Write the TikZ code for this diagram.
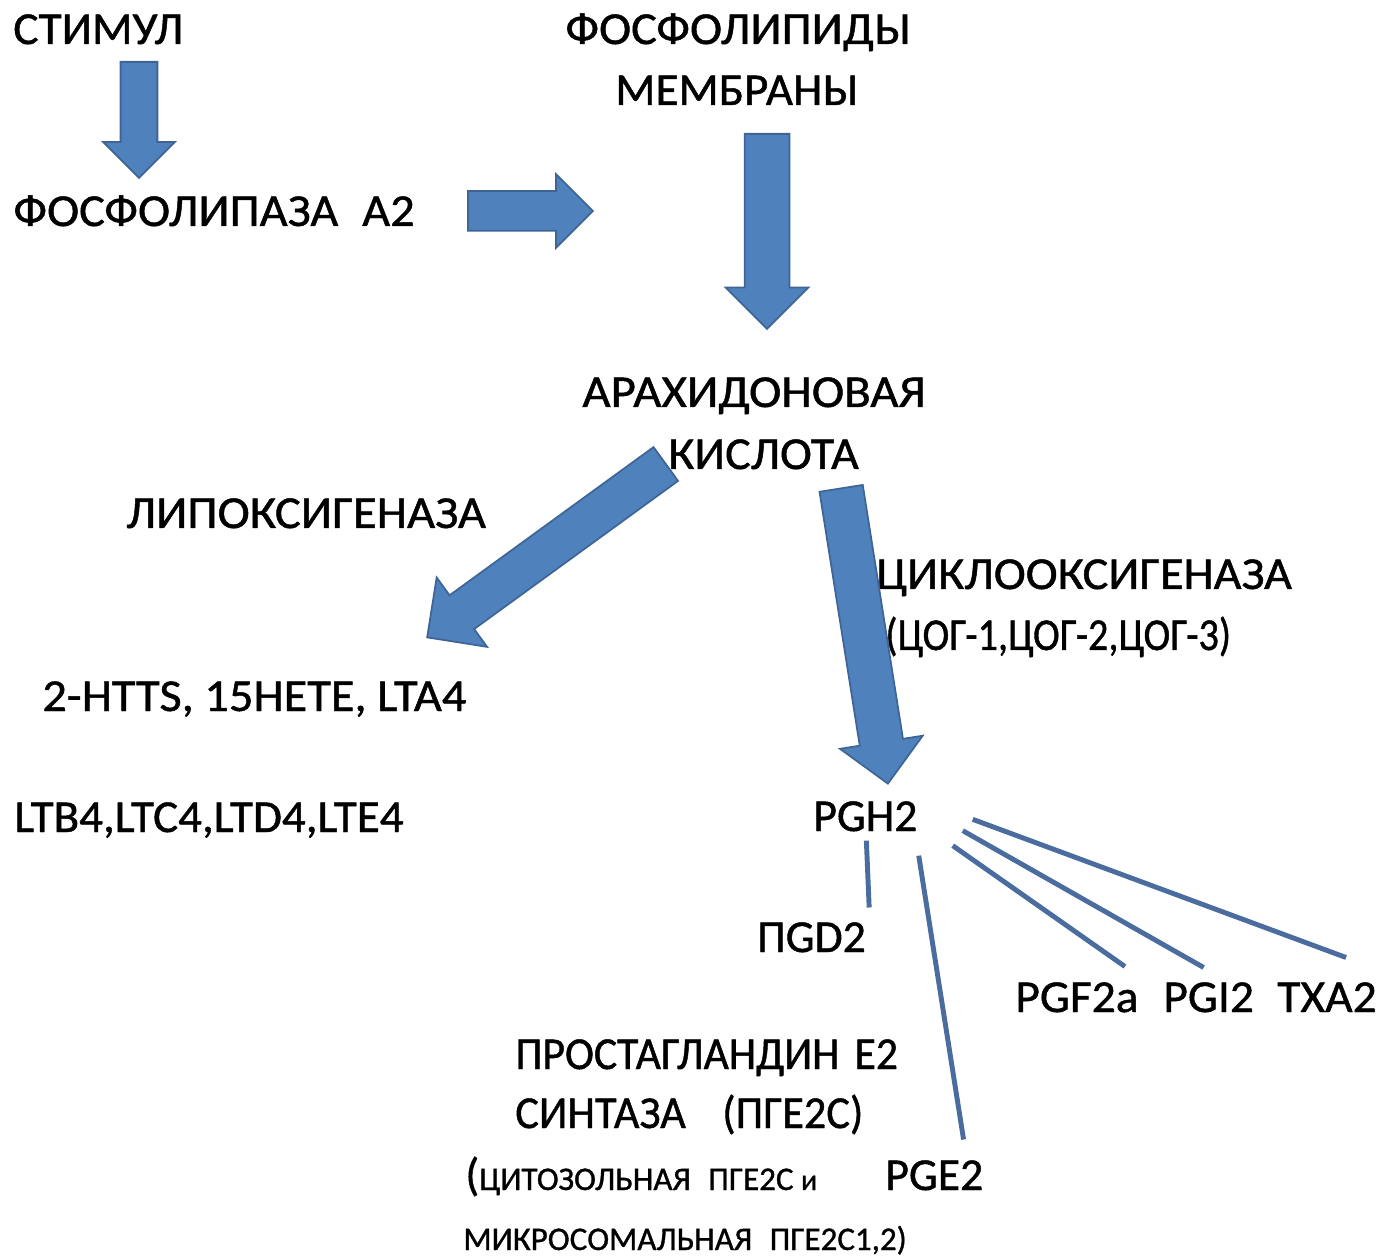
\documentclass[tikz,border=0pt]{standalone}
\usepackage{fontspec}
\setmainfont{Carlito}[FakeBold=1]
\usepackage{tikz}
\usetikzlibrary{shapes.arrows}
\definecolor{arrowfill}{HTML}{4F81BD}
\definecolor{arrowedge}{HTML}{3F6596}
\definecolor{branchblue}{HTML}{4A6C9E}
\tikzset{
	term/.style={inner sep=0pt, anchor=base west, font=\fontsize{26}{31}\selectfont},
	smallterm/.style={inner sep=0pt, anchor=base west, font=\fontsize{18.8}{23}\selectfont},
	bigarrow/.style={single arrow, draw=arrowedge, fill=arrowfill, line width=1pt, inner xsep=0pt, anchor=tail},
	branch/.style={draw=branchblue, line width=2.8pt}
}

\begin{document}
\begin{tikzpicture}[x=0.02cm, y=-0.02cm]
	\useasboundingbox (0,0) rectangle (1380,1256);
	
	\node[term] (stim) at (13,44) {\scalebox{1.037}[1]{СТИМУЛ}};
	\node[term] (pla) at (13,226) {\scalebox{1.06}[1]{ФОСФОЛИПАЗА\hspace{0.45cm}А2}};
	\node[term] (phos) at (565,44) {\scalebox{1.06}[1]{ФОСФОЛИПИДЫ}};
	\node[term] (memb) at (615,105) {\scalebox{1.03}[1]{МЕМБРАНЫ}};
	\node[term] (arach) at (582,407) {\scalebox{1.07}[1]{АРАХИДОНОВАЯ}};
	\node[term] (acid) at (668,469) {\scalebox{1.05}[1]{КИСЛОТА}};
	\node[term] (lox) at (126,528) {\scalebox{1.065}[1]{ЛИПОКСИГЕНАЗА}};
	\node[term] (cox) at (876,589) {\scalebox{1.056}[1]{ЦИКЛООКСИГЕНАЗА}};
	\node[term] (coxn) at (885,650) {\scalebox{0.88}[1]{(ЦОГ-1,ЦОГ-2,ЦОГ-3)}};
	\node[term] (hete) at (42,711) {\scalebox{1.06}[1]{2-HTTS,\hspace{0.2cm}15HETE,\hspace{0.2cm}LTA4}};
	\node[term] (ltb) at (14,832) {\scalebox{1.03}[1]{LTB4,LTC4,LTD4,LTE4}};
	\node[term] (pgh) at (813,831) {PGH2};
	\node[term] (pgd) at (757,952) {ПGD2};
	\node[term] (pgf) at (1015,1012) {\scalebox{1.04}[1]{PGF2a}};
	\node[term] (pgi) at (1163,1012) {\scalebox{1.04}[1]{PGI2}};
	\node[term] (txa) at (1277,1012) {\scalebox{1.04}[1]{TXA2}};
	\node[term] (pges) at (515,1069) {\scalebox{0.955}[1]{ПРОСТАГЛАНДИН\hspace{0.32cm}Е2}};
	\node[term] (synt) at (515,1128) {\scalebox{0.97}[1]{СИНТАЗА\hspace{0.75cm}(ПГЕ2С)}};
	\node[term] (cyto) at (465,1190) {(\fontsize{18.8}{23}\selectfont ЦИТОЗОЛЬНАЯ\hspace{0.35cm}ПГЕ2С {\fontsize{17}{20}\selectfont и}};
	\node[smallterm] (micro) at (463,1250) {МИКРОСОМАЛЬНАЯ\hspace{0.35cm}ПГЕ2С1,2)};
	\node[term] (pge) at (885,1190) {PGE2};
	
	\node[bigarrow, minimum height=2.32cm, inner ysep=0.35cm, single arrow head extend=0.35cm, rotate=-90] (arr1) at (139,61) {};
	\node[bigarrow, minimum height=2.5cm, inner ysep=0.38cm, single arrow head extend=0.34cm] (arr2) at (467,211) {};
	\node[bigarrow, minimum height=3.9cm, inner ysep=0.43cm, single arrow head extend=0.38cm, rotate=-90] (arr3) at (767,133) {};
	\node[bigarrow, minimum height=5.9cm, inner ysep=0.4cm, single arrow head extend=0.44cm, rotate=216] (arr4) at (666.5,463.5) {};
	\node[bigarrow, minimum height=5.98cm, inner ysep=0.42cm, single arrow head extend=0.4cm, rotate=-81] (arr5) at (841,487.5) {};
	
	\draw[branch] ([shift={(1,9)}]pgh.south) -- ([shift={(3,-14.5)}]pgd.north east);
	\draw[branch] ([shift={(1,24)}]pgh.south east) -- ([shift={(-20,-20.5)}]pge.north east);
	\draw[branch] ([shift={(35,14)}]pgh.south east) -- ([shift={(48,-15.5)}]pgf.north);
	\draw[branch] ([shift={(45,-1)}]pgh.south east) -- ([shift={(-5,-14.5)}]pgi.north);
	\draw[branch] ([shift={(55,3)}]pgh.east) -- ([shift={(19,-24.5)}]txa.north);
\end{tikzpicture}
\end{document}
